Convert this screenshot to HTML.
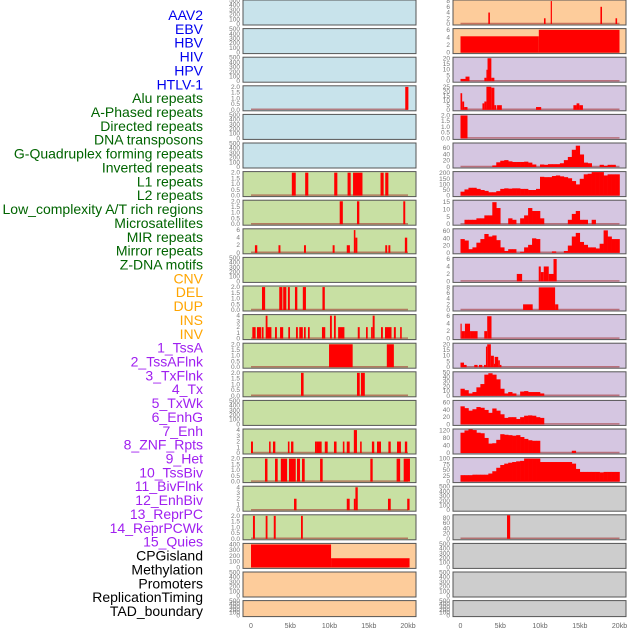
<!DOCTYPE html>
<html><head><meta charset="utf-8"><style>
html,body{margin:0;padding:0;background:#fff;}
svg{display:block;font-family:"Liberation Sans",sans-serif;}
</style></head><body>
<svg id="chart" width="630" height="630" viewBox="0 0 630 630"></svg>
<script>
// ---- data ----
const labels = ["AAV2","EBV","HBV","HIV","HPV","HTLV-1","Alu repeats","A-Phased repeats","Directed repeats","DNA transposons","G-Quadruplex forming repeats","Inverted repeats","L1 repeats","L2 repeats","Low_complexity A/T rich regions","Microsatellites","MIR repeats","Mirror repeats","Z-DNA motifs","CNV","DEL","DUP","INS","INV","1_TssA","2_TssAFlnk","3_TxFlnk","4_Tx","5_TxWk","6_EnhG","7_Enh","8_ZNF_Rpts","9_Het","10_TssBiv","11_BivFlnk","12_EnhBiv","13_ReprPC","14_ReprPCWk","15_Quies","CPGisland","Methylation","Promoters","ReplicationTiming","TAD_boundary"];
const xTicks = ["0","5kb","10kb","15kb","20kb"];
const xTickVals = [0,5,10,15,20];
// spike/segment series: [startKb, endKb, value]
const alu = [[19.65,20.05,2]];
const inverted = [[5.2,5.7,2],[6.9,7.3,2],[10.6,11.0,2],[12.3,12.7,2],[13.0,14.2,2],[16.5,16.9,2],[17.1,17.5,2]];
const l1 = [[11.3,11.7,2],[13.5,13.8,2],[19.4,19.65,2]];
const l2 = [[0.5,0.8,2],[3.5,3.75,2],[6.75,7.0,2],[10.4,10.65,2],[12.2,12.6,2],[13.1,13.3,6],[13.3,13.55,4],[17.1,17.35,2],[17.5,17.75,2],[19.6,19.9,4]];
const micro = [[1.4,1.8,2],[3.6,4.0,2],[4.1,4.5,2],[4.7,4.95,2],[5.6,5.9,2],[6.6,7.0,2],[9.1,9.4,2]];
const mir = [[0.17,0.59,2],[0.76,1.27,2],[1.36,1.6,2],[1.87,2.1,4],[2.1,2.6,2],[3.06,3.3,2],[3.7,4.1,2],[4.75,4.97,2],[5.73,5.97,2],[6.15,6.6,2],[6.75,6.97,2],[7.26,7.48,2],[9.04,9.46,2],[10.06,10.3,4],[10.57,10.8,4],[11.1,11.9,2],[13.6,13.85,2],[14.65,14.87,2],[15.3,15.5,2],[15.5,15.75,4],[16.56,16.8,2],[17.07,17.9,2],[18.2,18.45,2],[19.0,19.2,2]];
const mirror = [[9.94,12.95,2],[17.3,18.2,2]];
const zdna = [[6.37,6.7,2],[13.5,13.85,2],[14.0,14.5,2]];
const cnv = [[0,0.25,2],[2.3,2.5,2],[2.8,3.1,2],[4.7,4.9,2],[5.1,5.4,2],[8.15,8.4,2],[8.4,9.0,2],[9.4,9.77,2],[10.57,10.9,2],[11.7,11.9,2],[12.2,12.57,2],[13.1,13.5,4],[13.9,14.1,2],[15.4,15.7,2],[16.05,16.56,2],[17.5,17.8,2],[18.6,19.1,2],[19.6,19.9,2]];
const del = [[1.78,2.1,2],[3.06,3.4,2],[3.8,4.6,2],[4.84,5.7,2],[5.86,6.24,2],[6.5,6.84,2],[8.8,9.13,2],[15.2,15.5,2],[18.55,19.0,2],[19.45,20.25,2]];
const dup = [[5.48,5.8,2],[12.2,12.57,2],[13.1,13.3,2],[13.3,13.6,4],[17.45,17.8,2],[19.9,20.2,2]];
const tss_a = [[0.25,0.5,2],[1.87,2.1,2],[2.9,3.15,2],[6.37,6.6,2]];
const cpg = [[0,10.2,400],[10.2,20.2,160]];
const ins = [[3.5,3.7,4],[10.5,10.7,2],[11.35,11.5,8],[17.6,17.8,6],[19.5,19.7,2]];
const inv = [[0,9.85,4.3],[9.85,20,6]];
const tssA1 = [[0,0.63,2],[0.63,1.13,4],[3.0,3.26,3],[3.26,3.4,10],[3.4,3.88,20],[3.88,4.26,3]];
const tssAFlnk = [[0,0.21,18],[0.21,0.46,9],[0.46,0.88,3],[2.76,3.0,7],[3.0,3.26,9],[3.26,3.88,25],[3.88,4.26,24],[4.26,4.5,5],[4.6,5.2,5],[9.5,10.15,3],[14.2,14.6,5],[14.6,14.95,7],[14.95,15.4,5]];
const txFlnk = [[0,0.88,2]];
const znf = [[7.08,7.75,2],[9.84,10.1,4],[10.1,10.47,2.5],[10.47,11.1,4],[11.1,11.7,2],[11.7,12.1,6]];
const het = [[7.87,9.08,2],[9.84,11.9,8],[11.9,12.3,2]];
const tssBiv = [[0,0.15,4],[0.15,0.56,2],[0.56,1.2,4],[1.2,2.15,2],[2.99,3.36,2],[3.36,3.9,6]];
const bivFlnk = [[0,0.44,4],[0.44,0.77,2],[1.73,2.15,2],[2.32,2.74,2],[2.95,3.2,2],[3.2,3.36,18],[3.36,3.82,20],[3.82,4.2,10],[4.2,4.3,3],[4.3,4.74,9],[4.74,4.95,6],[4.95,5.15,2]];
const methyl = [[5.85,6.25,90]];
// binned series: 40 bins of 0.5kb
const tx4 = [0,0,0,0,0,0,0,0,5,15,20,22,18,16,16,16,17,14,8,0,8,7,9,9,9,12,22,32,55,68,40,14,12,0,0,7,4,7,7,0];
const txWk5 = [35,55,70,70,60,50,42,30,30,40,60,65,62,65,65,60,60,50,50,60,168,165,165,175,180,172,165,155,130,100,150,190,195,210,210,210,180,190,190,190];
const enhG6 = [0,3,3,3,4,4,6,6,15,11,0,0,4,3,0,4,6,11,9,9,4,0,0,0,0,0,0,3,7,9,3,3,0,3,0,0,0,0,0,0];
const enh7 = [38,34,10,15,28,38,52,45,48,35,15,5,10,10,0,3,15,22,40,38,0,0,0,4,0,0,5,20,45,55,30,22,15,15,12,25,62,45,38,38];
const enhBiv12 = [15,12,5,8,18,25,45,48,45,35,15,5,8,5,0,9,10,8,8,8,5,0,0,0,0,0,0,0,0,0,0,0,0,0,0,0,0,0,0,0];
const reprPC13 = [50,45,38,42,48,46,40,32,44,38,28,18,20,20,15,20,24,25,24,20,18,0,0,0,0,0,0,0,0,0,0,0,0,0,0,0,0,0,0,0];
const reprPCWk14 = [108,120,125,122,108,105,80,50,52,70,100,97,95,92,95,85,75,68,65,65,0,0,0,0,0,0,0,0,12,0,0,0,0,0,0,0,0,0,0,0];
const quies15 = [28,28,28,30,30,30,30,35,45,60,72,78,82,85,88,90,100,100,100,100,85,85,85,85,85,85,85,85,78,55,42,42,42,42,42,40,42,42,42,42];
// y-axis top value and tick step per panel (left col rows 0-21, right col rows 0-21)
const panelYTop = [500,500,500,2.05,500,500,2.05,2.05,6.2,500,2.05,4.1,2.05,2.05,500,4.1,2.05,4.1,2.05,410,500,500, 8.2,6.2,20.5,25.5,2.05,75,210,16,65,6.3,8.3,6.3,20.5,50,65,125,102,500,90,500,500,500];
const panelStep = [100,100,100,0.5,100,100,0.5,0.5,2,100,0.5,1,0.5,0.5,100,1,0.5,1,0.5,100,100,100, 2,2,5,5,0.5,20,50,5,20,2,2,2,5,10,20,40,25,100,20,100,100,100];

// ---- layout ----
const svg = document.getElementById('chart');
const NS = 'http://www.w3.org/2000/svg';
function mk(tag, attrs){const e=document.createElementNS(NS,tag);for(const k in attrs)e.setAttribute(k,attrs[k]);return e;}
const colX = [{l:243,r:416,x0:251,s:7.85},{l:453,r:626,x0:460.5,s:7.95}];
const labelColor = i => i<6?'#0000ee':(i<19?'#006400':(i<24?'#ffa500':(i<39?'#a020f0':'#000000')));
const panelSegs = {3:alu,6:inverted,7:l1,8:l2,10:micro,11:mir,12:mirror,13:zdna,15:cnv,16:del,17:dup,18:tss_a,19:cpg,
  22:ins,23:inv,24:tssA1,25:tssAFlnk,26:txFlnk,31:znf,32:het,33:tssBiv,34:bivFlnk,40:methyl};
const panelBins = {27:tx4,28:txWk5,29:enhG6,30:enh7,35:enhBiv12,36:reprPC13,37:reprPCWk14,38:quies15};
const panelBg = p => { if(p<22){return p<6?'#c8e3eb':(p<19?'#c8e0a3':'#fdcc9b');} const r=p-22; return r<2?'#fdcc9b':(r<17?'#d5c6e1':'#cdcdcd'); };

labels.forEach((t,i)=>{
  const tx = mk('text',{x:203,y:(15+i*13.86+5).toFixed(1),'text-anchor':'end','font-size':'14',fill:labelColor(i)});
  tx.textContent = t;
  
  
  svg.appendChild(tx);
});

for(let p=0;p<44;p++){
  const col = p<22?0:1, row = p%22;
  const C = colX[col];
  const top = row*28.6, h = row===21?16:25, bot = top+h;
  const g = mk('g',{});
  
  
  svg.appendChild(g);
  const bg = mk('rect',{x:C.l,y:top,width:C.r-C.l,height:h,fill:panelBg(p),stroke:'#555','stroke-width':1});
  
  
  g.appendChild(bg);
  const yT = panelYTop[p], st = panelStep[p];
  const y0 = bot-1, y1 = top+0.5;
  const yS = v => y0 - (v/yT)*(y0-y1);
  const xS = k => C.x0 + k*C.s;
  const frac = st<1;
  for(let v=0; v<=yT+1e-9; v+=st){
    const t = mk('text',{x:C.l-3,y:(yS(v)+2).toFixed(1),'text-anchor':'end','font-size':'6.5',fill:'#777'});
    t.textContent = frac? v.toFixed(1) : String(Math.round(v));
    
    
    g.appendChild(t);
  }
  const segs = panelSegs[p], bins = panelBins[p];
  if(segs || bins){
    const base = mk('line',{x1:xS(0),x2:xS(20),y1:y0-0.5,y2:y0-0.5,stroke:'rgba(160,40,40,0.55)','stroke-width':1.5});
    
    
    g.appendChild(base);
  }
  if(segs){
    segs.forEach(s=>{
      const r = mk('rect',{x:xS(s[0]).toFixed(2),y:yS(s[2]).toFixed(2),width:Math.max(1.2,xS(s[1])-xS(s[0])).toFixed(2),height:(y0-yS(s[2])).toFixed(2),fill:'#ff0000'});
      
      
      g.appendChild(r);
    });
  }
  if(bins){
    bins.forEach((v,i)=>{
      if(v<=0) return;
      const r = mk('rect',{x:xS(i*0.5).toFixed(2),y:yS(v).toFixed(2),width:(xS(0.5)-xS(0)+0.3).toFixed(2),height:(y0-yS(v)).toFixed(2),fill:'#ff0000'});
      
      
      g.appendChild(r);
    });
  }
}
colX.forEach(C=>{
  xTicks.forEach((t,i)=>{
    const tx = mk('text',{x:(C.x0+xTickVals[i]*C.s).toFixed(1),y:628,'text-anchor':'middle','font-size':'7',fill:'#666'});
    tx.textContent = t;
    
    
    svg.appendChild(tx);
  });
});
</script>
</body></html>
